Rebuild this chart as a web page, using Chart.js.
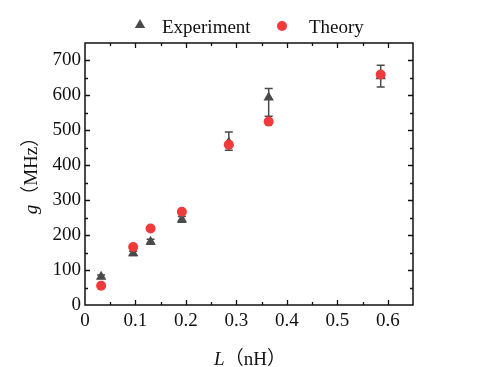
<!DOCTYPE html>
<html><head><meta charset="utf-8">
<script src="https://cdn.jsdelivr.net/npm/chart.js@4/dist/chart.umd.min.js"></script>
<style>html,body{margin:0;padding:0;background:#fff}canvas{display:block}</style>
</head><body>
<canvas id="c" width="480" height="367"></canvas>
<script>
// ---- data ----
const inductance = [0.032, 0.0955, 0.130, 0.192, 0.285, 0.364, 0.586];
const gExperiment = [81, 148, 181, 245, 465, 594, 655];
const errUpper = [5, 6, 7, 8, 30, 26, 31];
const errLower = [5, 6, 7, 8, 22, 54, 31];
const gTheory = [55, 166, 219, 267, 459, 525, 660];
const xTickValues = [0, 0.1, 0.2, 0.3, 0.4, 0.5, 0.6];
const xTickLabels = ['0', '0.1', '0.2', '0.3', '0.4', '0.5', '0.6'];
const yTickValues = [0, 100, 200, 300, 400, 500, 600, 700];
const yTickLabels = ['0', '100', '200', '300', '400', '500', '600', '700'];
const seriesNames = ['Experiment', 'Theory'];

const GRAY = '#4a4a4a';
const RED = '#f03a3c';
const FONT = "'Liberation Serif', 'Times New Roman', 'Noto Sans CJK SC', serif";

function labelFor(values, labels, v) {
  for (let i = 0; i < values.length; i++) if (Math.abs(values[i] - v) < 1e-6) return labels[i];
  return '';
}

const deco = {
  id: 'deco',
  beforeDatasetsDraw(chart) {
    const ctx = chart.ctx, xs = chart.scales.x, ys = chart.scales.y;
    ctx.save();
    ctx.strokeStyle = GRAY;
    ctx.lineWidth = 1.5;
    for (let i = 0; i < inductance.length; i++) {
      const px = xs.getPixelForValue(inductance[i]);
      const top = ys.getPixelForValue(gExperiment[i] + errUpper[i]);
      const bot = ys.getPixelForValue(gExperiment[i] - errLower[i]);
      ctx.beginPath();
      ctx.moveTo(px, top); ctx.lineTo(px, bot);
      ctx.moveTo(px - 4, top); ctx.lineTo(px + 4, top);
      ctx.moveTo(px - 4, bot); ctx.lineTo(px + 4, bot);
      ctx.stroke();
    }
    ctx.restore();
  },
  afterDraw(chart) {
    const ctx = chart.ctx, a = chart.chartArea, xs = chart.scales.x, ys = chart.scales.y;
    ctx.save();
    // frame
    ctx.strokeStyle = '#111';
    ctx.lineWidth = 1.5;
    ctx.strokeRect(a.left, a.top, a.right - a.left, a.bottom - a.top);
    // inward ticks on all sides
    ctx.lineWidth = 1.3;
    ctx.beginPath();
    for (let v = 0; v <= 0.65 + 1e-9; v += 0.05) {
      const major = Math.abs(Math.round(v * 10) - v * 10) < 1e-6;
      const len = major ? 5 : 3;
      const px = Math.round(xs.getPixelForValue(v)) + 0.5;
      if (px <= a.left + 1 || px >= a.right - 1) continue;
      ctx.moveTo(px, a.bottom); ctx.lineTo(px, a.bottom - len);
      ctx.moveTo(px, a.top); ctx.lineTo(px, a.top + len);
    }
    for (let v = 0; v <= 750; v += 50) {
      const major = v % 100 === 0;
      const len = major ? 5 : 3;
      const py = Math.round(ys.getPixelForValue(v)) + 0.5;
      if (py <= a.top + 1 || py >= a.bottom - 1) continue;
      ctx.moveTo(a.left, py); ctx.lineTo(a.left + len, py);
      ctx.moveTo(a.right, py); ctx.lineTo(a.right - len, py);
    }
    ctx.stroke();

    // legend
    ctx.fillStyle = GRAY;
    const tx = 140, ty = 25, r = 6;
    ctx.beginPath();
    ctx.moveTo(tx, ty - r);
    ctx.lineTo(tx + r * Math.sin(2 * Math.PI / 3), ty - r * Math.cos(2 * Math.PI / 3));
    ctx.lineTo(tx + r * Math.sin(4 * Math.PI / 3), ty - r * Math.cos(4 * Math.PI / 3));
    ctx.closePath();
    ctx.fill();
    ctx.fillStyle = RED;
    ctx.beginPath(); ctx.arc(282, 26, 5, 0, Math.PI * 2); ctx.fill();
    ctx.fillStyle = '#111';
    ctx.font = '19px ' + FONT;
    ctx.textBaseline = 'alphabetic';
    ctx.textAlign = 'left';
    ctx.fillText(seriesNames[0], 162, 33);
    ctx.fillText(seriesNames[1], 309, 33);

    // axis titles with italic symbols
    function mixed(parts, cx, cy) {
      let w = 0;
      parts.forEach(p => { ctx.font = p[1] + ' 19px ' + FONT; w += ctx.measureText(p[0]).width; });
      let x = cx - w / 2;
      parts.forEach(p => { ctx.font = p[1] + ' 19px ' + FONT; ctx.fillText(p[0], x, cy); x += ctx.measureText(p[0]).width; });
    }
    ctx.textBaseline = 'alphabetic';
    mixed([['L', 'italic'], ['（nH）', 'normal']], (a.left + a.right) / 2 + 1, 365);
    ctx.save();
    ctx.translate(37, (a.top + a.bottom) / 2 - 3);
    ctx.rotate(-Math.PI / 2);
    mixed([['g', 'italic'], ['（MHz）', 'normal']], 0, 0);
    ctx.restore();
    ctx.restore();
  }
};

new Chart(document.getElementById('c'), {
  type: 'scatter',
  data: {
    datasets: [
      {
        label: seriesNames[0],
        data: inductance.map((x, i) => ({x, y: gExperiment[i]})),
        pointStyle: 'triangle',
        pointRadius: 6,
        pointHoverRadius: 6,
        backgroundColor: GRAY,
        borderColor: GRAY,
        borderWidth: 0,
        order: 1
      },
      {
        label: seriesNames[1],
        data: inductance.map((x, i) => ({x, y: gTheory[i]})),
        pointStyle: 'circle',
        pointRadius: 5,
        pointHoverRadius: 5,
        backgroundColor: RED,
        borderColor: RED,
        borderWidth: 0,
        order: 0
      }
    ]
  },
  options: {
    responsive: false,
    animation: false,
    devicePixelRatio: 1,
    layout: {padding: {top: 43, right: 67, bottom: 0, left: 0}},
    plugins: {legend: {display: false}, tooltip: {enabled: false}},
    scales: {
      x: {
        type: 'linear', min: 0, max: 0.65,
        grid: {display: false, drawTicks: false},
        border: {display: false},
        ticks: {
          stepSize: 0.1, includeBounds: false, padding: 5, color: '#111',
          font: {family: FONT, size: 19},
          maxRotation: 0, autoSkip: false,
          callback: v => labelFor(xTickValues, xTickLabels, v)
        },
        afterFit: s => { s.height = 62; }
      },
      y: {
        type: 'linear', min: 0, max: 750,
        grid: {display: false, drawTicks: false},
        border: {display: false},
        ticks: {
          stepSize: 100, includeBounds: false, padding: 4, color: '#111',
          font: {family: FONT, size: 19},
          autoSkip: false,
          callback: v => labelFor(yTickValues, yTickLabels, v)
        },
        afterFit: s => { s.width = 85; }
      }
    }
  },
  plugins: [deco]
});
</script>
</body></html>
